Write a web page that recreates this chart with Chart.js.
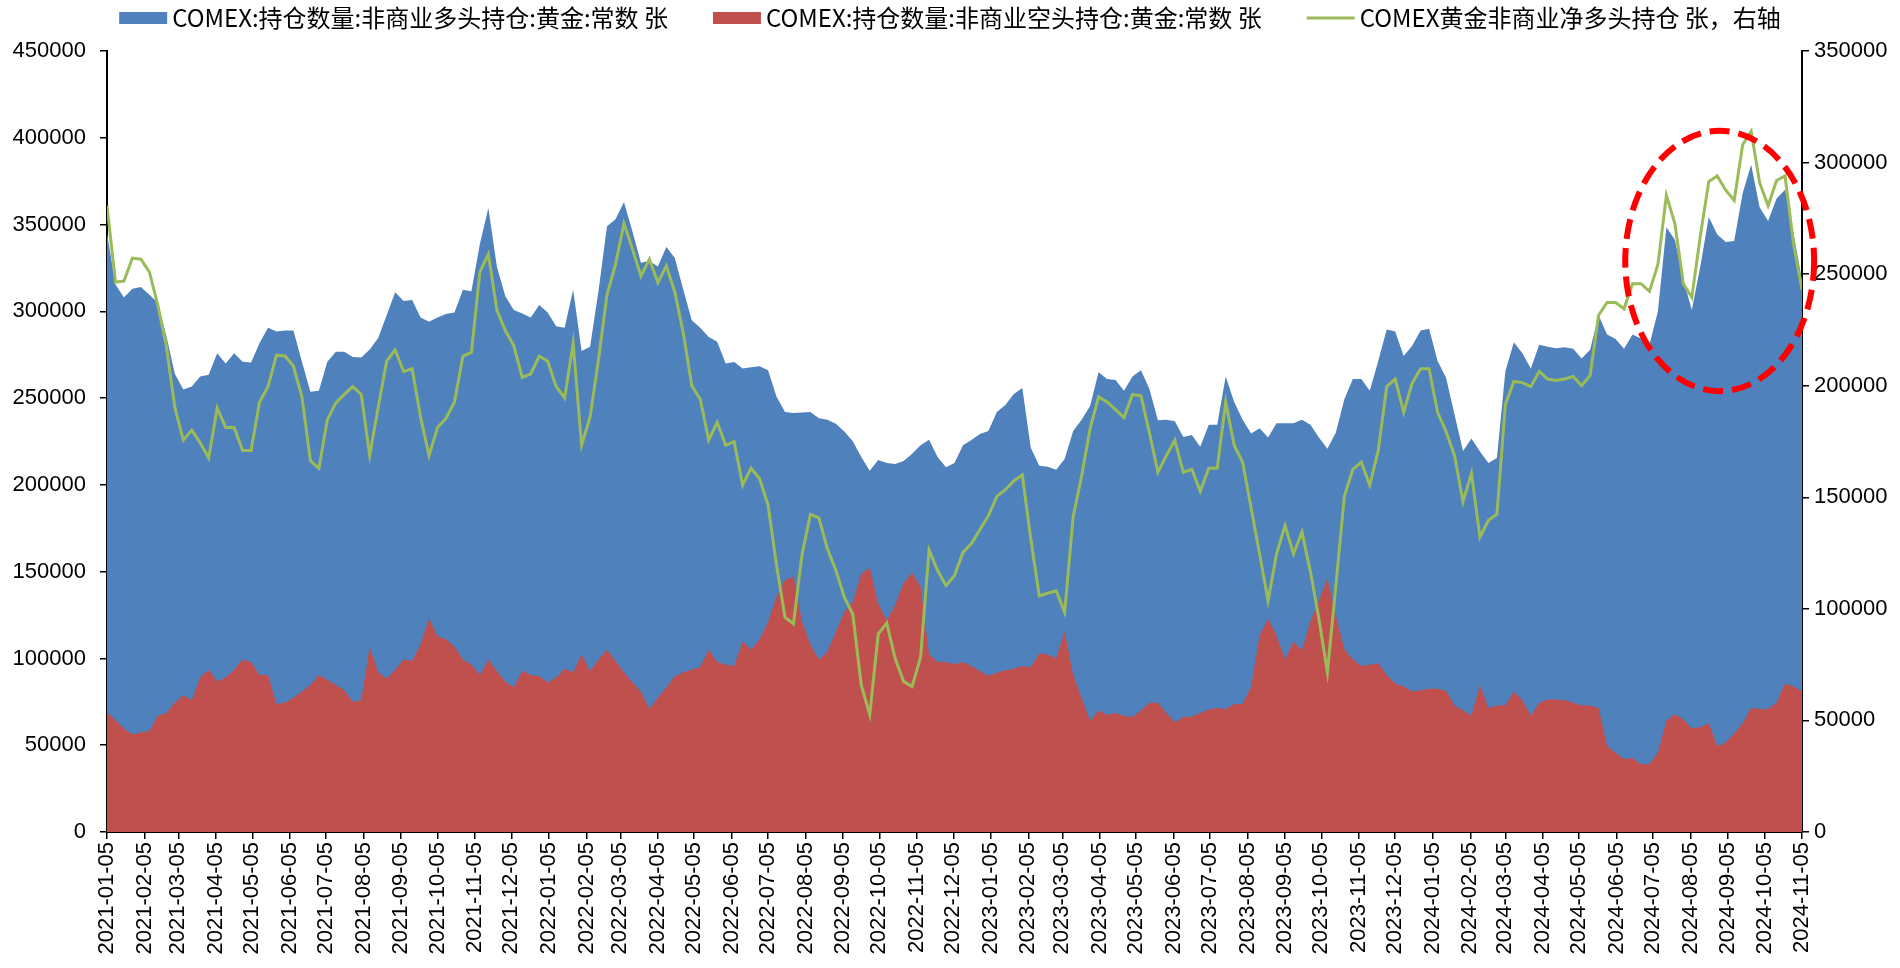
<!DOCTYPE html>
<html>
<head>
<meta charset="utf-8">
<script src="https://cdn.jsdelivr.net/npm/chart.js@4/dist/chart.umd.min.js"></script>
<style>
  html, body { margin: 0; padding: 0; background: #fff; }
  #wrap { width: 1900px; height: 968px; }
</style>
</head>
<body>
<div id="wrap"><canvas id="chart"></canvas></div>
<script>
// weekly CFTC data, first report date
const startDate = "2021-01-05";

const seriesNames = [
  "COMEX:持仓数量:非商业多头持仓:黄金:常数 张",
  "COMEX:持仓数量:非商业空头持仓:黄金:常数 张",
  "COMEX黄金非商业净多头持仓 张，右轴"
];

// non-commercial long (left axis)
const longPos = [
  345000, 315500, 308000, 313000, 314000, 309500, 305000, 286000, 264000, 255000,
  256700, 262500, 263400, 275800, 270000, 275800, 271000, 270500, 281700, 290500,
  288400, 289000, 289000, 271000, 253700, 254300, 271000, 276700, 276700, 273700,
  273400, 278000, 284600, 297800, 311000, 306000, 306600, 296400, 294000, 296400,
  298500, 299300, 312500, 311600, 339000, 359600, 325800, 308700, 300800, 298700,
  296400, 303700, 299300, 291400, 290500, 312500, 277200, 279600, 312000, 349000,
  353000, 363000, 346000, 328000, 329000, 325800, 337000, 330800, 312500, 294900,
  290500, 285200, 282500, 270000, 270800, 267000, 267800, 268400, 266000, 250800,
  242000, 241400, 241700, 242000, 238400, 237600, 235200, 230800, 225200, 216100,
  208200, 214300, 212600, 212000, 213700, 217900, 222900, 226000, 216100, 210200,
  212600, 222900, 225800, 229300, 231000, 242000, 246000, 252300, 255800, 221400,
  211000, 210500, 208700, 214900, 231000, 237600, 245500, 264900, 261000, 260500,
  254300, 262500, 266000, 255200, 237300, 237600, 236700, 227600, 228700, 222000,
  234600, 234600, 262500, 247800, 237600, 229600, 232600, 227300, 235500, 235500,
  235500, 237600, 234600, 227300, 220800, 230200, 249300, 261000, 261000, 254300,
  271400, 289600, 288400, 274300, 280200, 289000, 289900, 271400, 261700, 240500,
  219500, 226700, 219300, 212600, 215500, 265500, 282200, 275800, 267000, 280800,
  279600, 278700, 279300, 278400, 272800, 277800, 297800, 286700, 284000, 278400,
  286700, 284300, 280800, 300000, 348400, 341300, 318400, 300800, 325800, 354300,
  344300, 339900, 340500, 368000, 384500, 360000, 352000, 365000, 370000, 345000,
  318000
];

// non-commercial short (left axis)
const shortPos = [
  69000, 64400, 59700, 56200, 57300, 58200, 67000, 68500, 74400, 78800,
  75900, 89000, 93500, 86700, 89000, 93500, 99400, 98000, 90500, 90500,
  73800, 74400, 77300, 80900, 84700, 90500, 87600, 84700, 81700, 75000,
  75900, 106700, 92000, 88500, 93500, 99400, 98500, 108000, 123000, 112600,
  111000, 106700, 99400, 96400, 90500, 99400, 92600, 86700, 83200, 92900,
  90500, 89700, 86100, 89000, 94000, 92000, 102300, 92600, 99400, 105000,
  98500, 92000, 86100, 80900, 70900, 77300, 83200, 89700, 92000, 93500,
  95000, 105000, 98000, 96400, 95600, 109700, 105000, 111000, 120800, 135500,
  145000, 147300, 121400, 108000, 99400, 103800, 115500, 126700, 132600, 148800,
  152300, 131700, 122000, 130800, 143500, 149400, 141400, 102300, 97900, 97900,
  96700, 97900, 95600, 92600, 90000, 91700, 93200, 94000, 95600, 95000,
  102900, 102300, 100000, 115500, 90500, 77300, 64100, 70000, 67600, 68500,
  67000, 66200, 70000, 74400, 74400, 68500, 63200, 66200, 66400, 68500,
  70600, 71400, 70900, 73800, 73800, 83800, 113200, 122900, 113200, 99400,
  109700, 104700, 121400, 133200, 146400, 124400, 105300, 99400, 95600, 96400,
  97300, 90500, 85600, 83800, 80900, 81700, 82600, 82600, 81400, 72900,
  70000, 67000, 84700, 71400, 72900, 72900, 80900, 75900, 67000, 74400,
  76400, 76400, 75900, 74400, 72900, 72900, 71400, 49400, 45600, 42000,
  42600, 39100, 39100, 45600, 64100, 67900, 65000, 59700, 60300, 62600,
  49400, 51500, 56700, 62600, 71400, 70900, 70900, 74400, 85600, 83800,
  80900
];

// net long (right axis)
const netPos = [
  280700, 246400, 246900, 257200, 256700, 251000, 236100, 217900, 190400, 175600,
  180100, 174400, 167600, 190000, 181300, 181300, 171000, 171000, 192700, 199600,
  213700, 213300, 208700, 195000, 166400, 163000, 184700, 192300, 196100, 199600,
  196100, 168700, 190400, 211000, 216000, 206400, 207600, 185900, 168700, 181300,
  185400, 192700, 213300, 214900, 251000, 259000, 233900, 224700, 217900, 203700,
  205300, 213300, 211000, 199600, 194500, 219000, 173300, 185900, 212000, 240700,
  254400, 272700, 261300, 249200, 256700, 246200, 253700, 241900, 223600, 200000,
  193900, 175600, 183600, 173300, 174900, 155400, 163000, 158400, 146500, 119600,
  96200, 93300, 124100, 142400, 140800, 126900, 117300, 105200, 97600, 65800,
  52600, 88700, 93700, 77700, 67400, 65200, 78400, 126400, 117300, 110400,
  115000, 125300, 129200, 135600, 141700, 150400, 153400, 157300, 160000, 131400,
  105800, 107000, 108100, 98500, 141300, 159600, 180800, 195000, 192700, 189300,
  185700, 196100, 195500, 179000, 161200, 168700, 175600, 161200, 162500, 152700,
  163000, 163000, 192700, 173300, 165700, 145200, 124600, 103600, 124600, 137400,
  124600, 134400, 116600, 95600, 71600, 110400, 150400, 162500, 165700, 155400,
  171000, 199600, 203000, 188100, 201200, 207600, 207600, 188100, 179500, 168700,
  148100, 160700, 132100, 139700, 142400, 191600, 201900, 201400, 199600, 206400,
  203000, 202300, 203000, 204100, 200000, 204600, 231600, 237300, 237300, 234500,
  245700, 245700, 242300, 254400, 285300, 272700, 245700, 239600, 267000, 291500,
  294000, 287600, 283000, 308000, 314000, 291000, 280700, 292000, 294000, 263600,
  243000
];

const tickLabels = [
  "2021-01-05", "2021-02-05", "2021-03-05", "2021-04-05", "2021-05-05", "2021-06-05",
  "2021-07-05", "2021-08-05", "2021-09-05", "2021-10-05", "2021-11-05", "2021-12-05",
  "2022-01-05", "2022-02-05", "2022-03-05", "2022-04-05", "2022-05-05", "2022-06-05",
  "2022-07-05", "2022-08-05", "2022-09-05", "2022-10-05", "2022-11-05", "2022-12-05",
  "2023-01-05", "2023-02-05", "2023-03-05", "2023-04-05", "2023-05-05", "2023-06-05",
  "2023-07-05", "2023-08-05", "2023-09-05", "2023-10-05", "2023-11-05", "2023-12-05",
  "2024-01-05", "2024-02-05", "2024-03-05", "2024-04-05", "2024-05-05", "2024-06-05",
  "2024-07-05", "2024-08-05", "2024-09-05", "2024-10-05", "2024-11-05"
];

// red dashed ring around the 2024 highs (data units)
const ringCenter = { date: "2024-08-29", value: 329000 };
const ringRadius = { days: 78, value: 75000 };

const colors = ["#4F81BD", "#C0504D", "#9BBB59"];

function dayOf(s) {
  return (Date.parse(s) - Date.parse(startDate)) / 86400000;
}
const tickDays = tickLabels.map(dayOf);
const lastDay = tickDays[tickDays.length - 1];
const toPoints = arr => arr.map((v, i) => ({ x: i * 7, y: v }));

const axisFont = { family: "'Liberation Sans', Arial, sans-serif", size: 22 };

/* legend drawn across the top */
const topLegend = {
  id: "topLegend",
  afterDraw(chart) {
    const ctx = chart.ctx;
    const boxW = 48, boxH = 12, gapText = 5, gapItem = 45, y = 18;
    ctx.save();
    ctx.font = "24px 'Noto Sans CJK SC'";
    ctx.textBaseline = "middle";
    const widths = seriesNames.map(t => ctx.measureText(t).width);
    let total = gapItem * (seriesNames.length - 1);
    widths.forEach(w => total += boxW + gapText + w);
    let x = (chart.width - total) / 2;
    seriesNames.forEach((name, i) => {
      if (i < 2) {
        ctx.fillStyle = colors[i];
        ctx.fillRect(x, y - boxH / 2, boxW, boxH);
      } else {
        ctx.strokeStyle = colors[i];
        ctx.lineWidth = 3;
        ctx.beginPath();
        ctx.moveTo(x, y);
        ctx.lineTo(x + boxW, y);
        ctx.stroke();
      }
      ctx.fillStyle = "#000";
      ctx.fillText(name, x + boxW + gapText, y);
      x += boxW + gapText + widths[i] + gapItem;
    });
    ctx.restore();
  }
};

/* dashed ellipse annotation */
const ring = {
  id: "ring",
  afterDatasetsDraw(chart) {
    const xs = chart.scales.x, ys = chart.scales.y;
    const d = dayOf(ringCenter.date);
    const cx = xs.getPixelForValue(d);
    const cy = ys.getPixelForValue(ringCenter.value);
    const rx = Math.abs(xs.getPixelForValue(d + ringRadius.days) - cx);
    const ry = Math.abs(ys.getPixelForValue(ringCenter.value + ringRadius.value) - cy);
    const ctx = chart.ctx;
    ctx.save();
    ctx.strokeStyle = "#FF0000";
    ctx.lineWidth = 6;
    ctx.setLineDash([20, 9]);
    ctx.beginPath();
    ctx.ellipse(cx, cy, rx, ry, 0, 0, Math.PI * 2);
    ctx.stroke();
    ctx.restore();
  }
};

const chart = new Chart(document.getElementById("chart"), {
  type: "line",
  data: {
    datasets: [
      {
        label: seriesNames[0],
        data: toPoints(longPos),
        yAxisID: "y",
        backgroundColor: colors[0],
        borderWidth: 0,
        pointRadius: 0,
        fill: "origin",
        order: 2
      },
      {
        label: seriesNames[1],
        data: toPoints(shortPos),
        yAxisID: "y",
        backgroundColor: colors[1],
        borderWidth: 0,
        pointRadius: 0,
        fill: "origin",
        order: 1
      },
      {
        label: seriesNames[2],
        data: toPoints(netPos),
        yAxisID: "y1",
        borderColor: colors[2],
        borderWidth: 3,
        pointRadius: 0,
        fill: false,
        order: 0
      }
    ]
  },
  options: {
    responsive: true,
    maintainAspectRatio: false,
    animation: false,
    layout: { padding: { top: 51, left: 0, right: 0, bottom: 0 } },
    plugins: {
      legend: { display: false },
      tooltip: { enabled: false }
    },
    scales: {
      x: {
        type: "linear",
        min: 0,
        max: lastDay,
        afterBuildTicks: axis => { axis.ticks = tickDays.map(v => ({ value: v })); },
        afterFit: axis => { axis.height = 136; },
        ticks: {
          autoSkip: false,
          maxRotation: 90,
          minRotation: 90,
          padding: 3,
          color: "#000",
          font: axisFont,
          callback: (v, i) => tickLabels[i]
        },
        grid: { drawOnChartArea: false, tickLength: 7, color: "#000", lineWidth: 1.5 },
        border: { color: "#000", width: 2 }
      },
      y: {
        position: "left",
        min: 0,
        max: 450000,
        afterFit: axis => { axis.width = 107; },
        ticks: { stepSize: 50000, padding: 14, color: "#000", font: axisFont, callback: v => String(v) },
        grid: { drawOnChartArea: false, tickLength: 7, color: "#000", lineWidth: 1.5 },
        border: { color: "#000", width: 2 }
      },
      y1: {
        position: "right",
        min: 0,
        max: 350000,
        afterFit: axis => { axis.width = 98; },
        ticks: { stepSize: 50000, padding: 5, color: "#000", font: axisFont, callback: v => String(v) },
        grid: { drawOnChartArea: false, tickLength: 7, color: "#000", lineWidth: 1.5 },
        border: { color: "#000", width: 2 }
      }
    }
  },
  plugins: [topLegend, ring]
});
</script>
</body>
</html>
